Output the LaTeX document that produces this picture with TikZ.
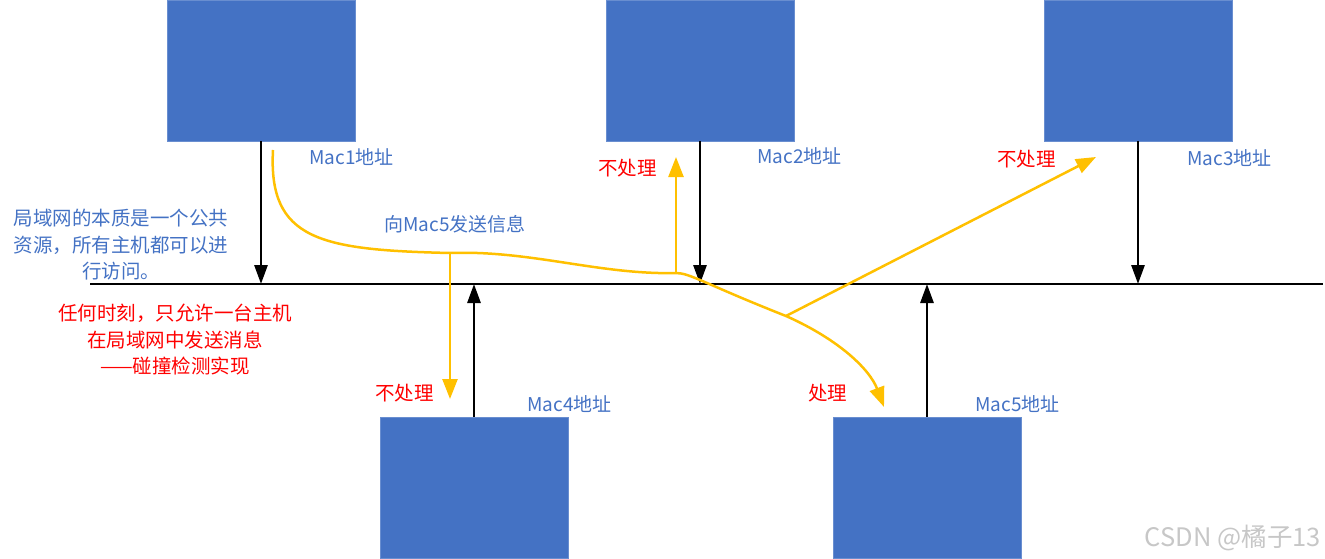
\documentclass[tikz,border=0pt]{standalone}
\usepackage{fontspec}
\setmainfont{Noto Sans CJK SC}
\usepackage{xcolor}
\usetikzlibrary{arrows.meta}

\definecolor{hostblue}{HTML}{4472C4}
\definecolor{sigyellow}{HTML}{FFC000}
\definecolor{notered}{HTML}{FF0000}

\begin{document}
\begin{tikzpicture}[x=1pt, y=-1pt,
    host/.style={fill=hostblue, draw=hostblue!80!white, line width=0.6pt, inner sep=0pt, minimum width=188pt, minimum height=141pt},
    link/.style={line width=2.8pt, -{Triangle[length=19pt,width=13pt]}},
    sig/.style={draw=sigyellow, line width=2.5pt},
    sigarrow/.style={sig, -{Triangle[length=20pt,width=15pt]}},
    addr/.style={text=hostblue, anchor=west, inner sep=0pt, font=\fontsize{19}{24}\selectfont},
    note/.style={text=notered, anchor=west, inner sep=0pt, font=\fontsize{19.5}{24}\selectfont}]
    \useasboundingbox (0,0) rectangle (1325,559);

    % Hosts
    \node[host] (m1) at (261,70.5) {};
    \node[host] (m2) at (700,70.5) {};
    \node[host] (m3) at (1138,70.5) {};
    \node[host] (m4) at (474,488) {};
    \node[host] (m5) at (927,488) {};

    % Addresses
    \node[addr] (a1) at (309,157) {Mac1地址};
    \node[addr] (a2) at (757,156) {Mac2地址};
    \node[addr] (a3) at (1187,158) {Mac3地址};
    \node[addr] (a4) at (527,404) {Mac4地址};
    \node[addr] (a5) at (975,404) {Mac5地址};

    % Bus
    \coordinate (busL) at (90,284);
    \coordinate (busR) at (1323,284);
    \draw[line width=2.8pt] (busL) -- (busR);
    \coordinate (b1) at (261,284);
    \coordinate (b2) at (700,284);
    \coordinate (b3) at (1138,284);
    \coordinate (b4) at (474,284);
    \coordinate (b5) at (927,284);

    % Connections
    \draw[link] (m1.south) -- (b1);
    \draw[link] (m2.south) -- (b2);
    \draw[link] (m3.south) -- (b3);
    \draw[link] (m4.north) -- (b4);
    \draw[link] (m5.north) -- (b5);

    % Signal from Mac1
    \coordinate (s) at (273,150);
    \coordinate (j4) at (450,253);
    \coordinate (j2) at (676,273);
    \coordinate (j3) at (786,316);
    \coordinate (t5) at (884,407);
    \coordinate (t4) at (450,399);
    \coordinate (t2) at (676,157);
    \coordinate (t3) at (1096,157);
    \draw[sigarrow] (s) .. controls (268,240) and (320,250) .. (j4)
        .. controls (530,250) and (600,275) .. (j2)
        .. controls (690,273) and (705,284) .. (j3)
        .. controls (840,340) and (870,370) .. (t5);
    \draw[sigarrow] (j4) -- (t4);
    \draw[sigarrow] (j2) -- (t2);
    \draw[sigarrow] (j3) -- (t3);

    % Labels
    \node[addr] (msg) at (384,224) {向Mac5发送信息};
    \node[note] (n2) at (598,168) {不处理};
    \node[note] (n3) at (997,159) {不处理};
    \node[note] (n4) at (375,393) {不处理};
    \node[note] (n5) at (808,393) {处理};

    % Notes on the left
    \node[text=hostblue, align=center, inner sep=0pt, font=\fontsize{19.5}{26.5}\selectfont] (lan) at (121,245)
        {局域网的本质是一个公共\\资源，所有主机都可以进\\行访问。};
    \node[text=notered, align=center, inner sep=0pt, font=\fontsize{19.5}{26.5}\selectfont] (rule) at (175,340)
        {任何时刻，只允许一台主机\\在局域网中发送消息\\——碰撞检测实现};

    % Watermark
    \node[text=black!22, anchor=east, inner sep=0pt, font=\fontsize{25.5}{28}\selectfont] (wm) at (1321,538) {CSDN @橘子13};
\end{tikzpicture}
\end{document}
